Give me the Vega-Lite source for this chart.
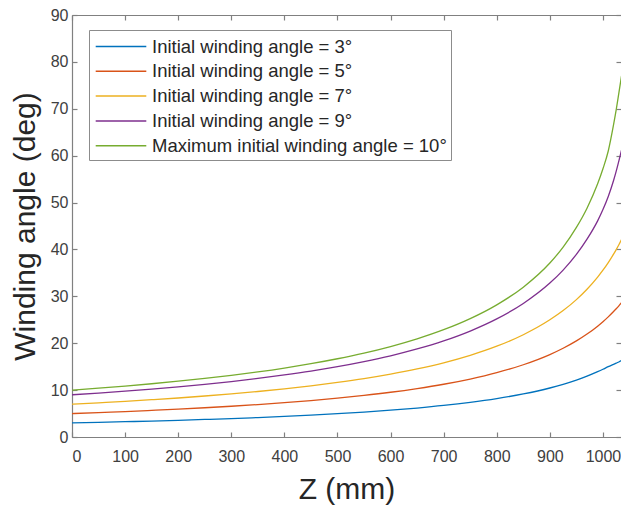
{
  "$schema": "https://vega.github.io/schema/vega-lite/v6.json",
  "width": 549,
  "height": 422,
  "autosize": {"type": "none"},
  "padding": {"left": 72, "top": 15, "right": 0, "bottom": 71},
  "background": "white",
  "config": {"view": {"stroke": null}, "font": "Liberation Sans"},
  "data": {
    "values": [
      {"z": 0, "a3": 3.00, "a5": 5.00, "a7": 7.00, "a9": 9.00, "a10": 10.00},
      {"z": 50, "a3": 3.12, "a5": 5.21, "a7": 7.29, "a9": 9.37, "a10": 10.42},
      {"z": 100, "a3": 3.26, "a5": 5.43, "a7": 7.60, "a9": 9.78, "a10": 10.87},
      {"z": 150, "a3": 3.40, "a5": 5.68, "a7": 7.95, "a9": 10.22, "a10": 11.36},
      {"z": 200, "a3": 3.56, "a5": 5.94, "a7": 8.32, "a9": 10.71, "a10": 11.90},
      {"z": 250, "a3": 3.74, "a5": 6.24, "a7": 8.74, "a9": 11.24, "a10": 12.50},
      {"z": 300, "a3": 3.93, "a5": 6.56, "a7": 9.19, "a9": 11.83, "a10": 13.16},
      {"z": 350, "a3": 4.15, "a5": 6.92, "a7": 9.70, "a9": 12.49, "a10": 13.89},
      {"z": 400, "a3": 4.39, "a5": 7.32, "a7": 10.27, "a9": 13.23, "a10": 14.71},
      {"z": 450, "a3": 4.66, "a5": 7.77, "a7": 10.90, "a9": 14.05, "a10": 15.64},
      {"z": 500, "a3": 4.97, "a5": 8.29, "a7": 11.63, "a9": 14.99, "a10": 16.69},
      {"z": 550, "a3": 5.31, "a5": 8.87, "a7": 12.45, "a9": 16.07, "a10": 17.89},
      {"z": 600, "a3": 5.71, "a5": 9.54, "a7": 13.41, "a9": 17.31, "a10": 19.29},
      {"z": 650, "a3": 6.18, "a5": 10.33, "a7": 14.52, "a9": 18.77, "a10": 20.93},
      {"z": 700, "a3": 6.73, "a5": 11.25, "a7": 15.83, "a9": 20.50, "a10": 22.88},
      {"z": 750, "a3": 7.39, "a5": 12.36, "a7": 17.42, "a9": 22.60, "a10": 25.25},
      {"z": 800, "a3": 8.19, "a5": 13.72, "a7": 19.36, "a9": 25.19, "a10": 28.19},
      {"z": 850, "a3": 9.18, "a5": 15.41, "a7": 21.81, "a9": 28.48, "a10": 31.96},
      {"z": 900, "a3": 10.45, "a5": 17.58, "a7": 24.99, "a9": 32.83, "a10": 37.10},
      {"z": 925, "a3": 11.23, "a5": 18.92, "a7": 26.96, "a9": 35.60, "a10": 40.50},
      {"z": 950, "a3": 12.13, "a5": 20.49, "a7": 29.30, "a9": 38.95, "a10": 44.70},
      {"z": 970, "a3": 12.97, "a5": 21.95, "a7": 31.51, "a9": 42.20, "a10": 48.80},
      {"z": 990, "a3": 13.93, "a5": 23.64, "a7": 34.10, "a9": 46.10, "a10": 54.00},
      {"z": 1000, "a3": 14.45, "a5": 24.59, "a7": 35.57, "a9": 48.50, "a10": 57.20},
      {"z": 1010, "a3": 15.00, "a5": 25.62, "a7": 37.20, "a9": 51.30, "a10": 61.00},
      {"z": 1020, "a3": 15.50, "a5": 26.75, "a7": 39.00, "a9": 54.70, "a10": 66.60},
      {"z": 1025, "a3": 15.75, "a5": 27.35, "a7": 39.97, "a9": 56.70, "a10": 69.80},
      {"z": 1030, "a3": 16.00, "a5": 27.98, "a7": 41.00, "a9": 58.90, "a10": 73.40},
      {"z": 1035, "a3": 16.30, "a5": 28.64, "a7": 42.09, "a9": 61.20, "a10": 77.00}
    ]
  },
  "transform": [{"fold": ["a3", "a5", "a7", "a9", "a10"], "as": ["series", "angle"]}],
  "layer": [
    {
      "mark": {"type": "line", "strokeWidth": 1.3, "clip": true, "interpolate": "monotone"},
      "encoding": {
        "x": {
          "field": "z", "type": "quantitative",
          "scale": {"domain": [0, 1034], "nice": false, "zero": false},
          "axis": {
            "orient": "bottom", "values": [0, 100, 200, 300, 400, 500, 600, 700, 800, 900, 1000], "format": "d",
            "grid": false, "domainColor": "#808080", "domainWidth": 1.2,
            "tickColor": "#808080", "tickWidth": 1.2, "tickSize": -5,
            "labelFont": "Liberation Sans", "labelFontSize": 16, "labelColor": "#404040", "labelPadding": 16,
            "title": "Z (mm)", "titleFont": "Liberation Sans", "titleFontSize": 30, "titleFontWeight": "normal",
            "titleColor": "#262626", "titleX": 274.5, "titleY": 52, "titleBaseline": "middle", "titleAlign": "center"
          }
        },
        "y": {
          "field": "angle", "type": "quantitative",
          "scale": {"domain": [0, 90], "nice": false, "zero": true},
          "axis": {
            "orient": "left", "values": [0, 10, 20, 30, 40, 50, 60, 70, 80, 90],
            "grid": false, "domainColor": "#808080", "domainWidth": 1.2,
            "tickColor": "#808080", "tickWidth": 1.2, "tickSize": -5,
            "labelFont": "Liberation Sans", "labelFontSize": 16, "labelColor": "#404040", "labelPadding": 9,
            "title": "Winding angle (deg)", "titleFont": "Liberation Sans", "titleFontSize": 30, "titleFontWeight": "normal",
            "titleColor": "#262626", "titleX": -47, "titleY": 211, "titleAngle": -90, "titleBaseline": "middle", "titleAlign": "center"
          }
        },
        "color": {
          "field": "series", "type": "nominal",
          "scale": {"domain": ["a3", "a5", "a7", "a9", "a10"], "range": ["#0072BD", "#D95319", "#EDB120", "#7E2F8E", "#77AC30"]},
          "legend": {
            "orient": "none", "legendX": 17, "legendY": 15, "title": null,
            "symbolType": "M-2.2,0H2.2", "symbolSize": 529, "symbolStrokeWidth": 1.5, "symbolOffset": 15.5,
            "symbolFillColor": "transparent",
            "labelFont": "Liberation Sans", "labelFontSize": 18.5, "labelColor": "#262626", "labelOffset": 18.5, "labelLimit": 400,
            "labelExpr": "datum.label == 'a10' ? 'Maximum initial winding angle = 10°' : 'Initial winding angle = ' + slice(datum.label, 1) + '°'",
            "rowPadding": 2.8, "padding": 4, "strokeColor": "#8c8c8c", "fillColor": "white"
          }
        }
      }
    },
    {
      "mark": {"type": "point", "opacity": 0},
      "encoding": {
        "x": {
          "field": "z", "type": "quantitative",
          "scale": {"domain": [0, 1034], "nice": false, "zero": false},
          "axis": {"orient": "top", "values": [0, 100, 200, 300, 400, 500, 600, 700, 800, 900, 1000],
            "labels": false, "title": null, "grid": false, "domainColor": "#808080", "domainWidth": 1.2,
            "tickColor": "#808080", "tickWidth": 1.2, "tickSize": -5}
        },
        "y": {
          "field": "angle", "type": "quantitative",
          "scale": {"domain": [0, 90], "nice": false, "zero": true},
          "axis": {"orient": "right", "values": [0, 10, 20, 30, 40, 50, 60, 70, 80, 90],
            "labels": false, "title": null, "grid": false, "domain": false,
            "tickColor": "#808080", "tickWidth": 1.2, "tickSize": -5}
        }
      }
    }
  ],
  "resolve": {"axis": {"x": "independent", "y": "independent"}}
}
